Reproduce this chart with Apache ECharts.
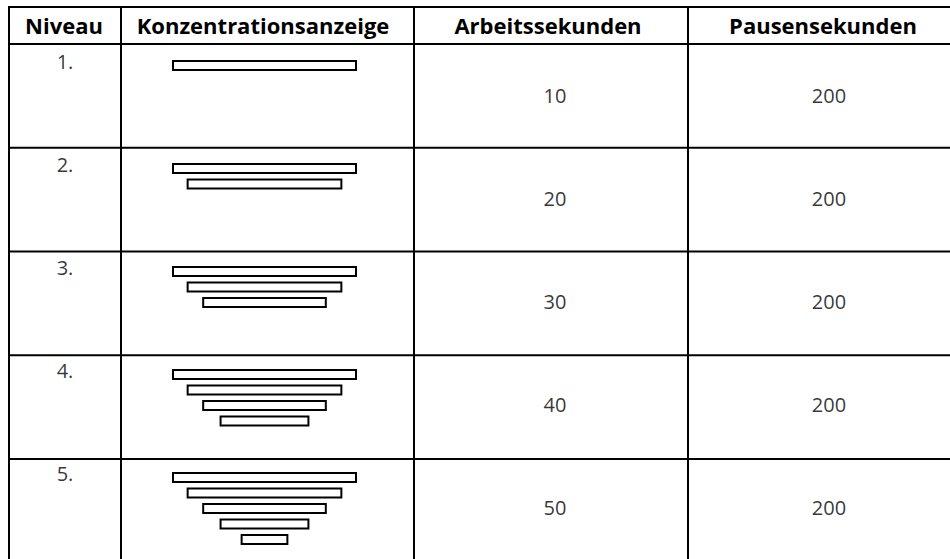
<!DOCTYPE html>
<html>
<head>
<meta charset="utf-8">
<script src="https://cdn.jsdelivr.net/npm/echarts@6/dist/echarts.min.js"></script>
<style>html,body{margin:0;padding:0;background:#fff}#c{width:950px;height:559px}</style>
</head>
<body>
<div id="c"></div>
<script>
// ---- data ----
var headers = ['Niveau', 'Konzentrationsanzeige', 'Arbeitssekunden', 'Pausensekunden'];
var levels = ['1.', '2.', '3.', '4.', '5.'];
var arbeitssekunden = [10, 20, 30, 40, 50];
var pausensekunden = [200, 200, 200, 200, 200];
// relative length (in % of the longest bar) of each bar of the concentration display
var barLengths = [100, 84, 67, 48, 25];

// ---- layout ----
var FONT = '"Open Sans", "Noto Sans", sans-serif';
var tableTop = 7, headerLine = 44, bandH = 103.75;
var colLines = [9, 121, 414, 688];

var barData = [];
levels.forEach(function (lv, li) {
  for (var b = 0; b <= li; b++) barData.push([barLengths[b], li, b]);
});

var graphics = [];
var hl = [tableTop, headerLine];
for (var r = 1; r < levels.length; r++) hl.push(headerLine + r * bandH);
hl.forEach(function (y) {
  graphics.push({type: 'line', shape: {x1: 8, y1: y, x2: 950, y2: y}, style: {stroke: '#000', lineWidth: 2}, silent: true});
});
colLines.forEach(function (x) {
  graphics.push({type: 'line', shape: {x1: x, y1: tableTop - 1, x2: x, y2: 559}, style: {stroke: '#000', lineWidth: 2}, silent: true});
});
var headerX = [64, 263, 548, 823];
headers.forEach(function (h, i) {
  graphics.push({type: 'text', x: headerX[i], y: 25, style: {text: h, fill: '#000', font: 'bold 22px ' + FONT, textAlign: 'center', textVerticalAlign: 'middle'}, silent: true});
});

var gridH = bandH * levels.length;
var chart = echarts.init(document.getElementById('c'), null, {renderer: 'svg'});
chart.setOption({
  animation: false,
  backgroundColor: '#fff',
  grid: [
    {left: 9, width: 112, top: headerLine, height: gridH},
    {left: 173, width: 183, top: headerLine, height: gridH},
    {left: 555, width: 274, top: headerLine, height: gridH}
  ],
  xAxis: [
    {gridIndex: 0, type: 'category', data: ['Niveau'], show: false},
    {gridIndex: 1, type: 'value', min: 0, max: 100, show: false},
    {gridIndex: 2, type: 'category', boundaryGap: false, data: ['Arbeitssekunden', 'Pausensekunden'], show: false}
  ],
  yAxis: [
    {gridIndex: 0, type: 'category', data: levels, inverse: true, show: false},
    {gridIndex: 1, type: 'category', data: levels, inverse: true, show: false},
    {gridIndex: 2, type: 'category', data: levels, inverse: true, show: false}
  ],
  graphic: graphics,
  series: [
    {
      type: 'scatter', xAxisIndex: 0, yAxisIndex: 0, silent: true,
      symbolSize: 1, itemStyle: {color: 'transparent'},
      data: levels.map(function (l, i) { return [0, i]; }),
      label: {show: true, position: 'inside', offset: [0, -34], color: '#000', fontFamily: FONT, fontSize: 20,
        formatter: function (p) { return levels[p.value[1]]; }}
    },
    {
      type: 'custom', xAxisIndex: 1, yAxisIndex: 1, silent: true,
      encode: {x: 0, y: 1},
      data: barData,
      renderItem: function (params, api) {
        var len = api.value(0), li = api.value(1), bi = api.value(2);
        var c = api.coord([50, li]);
        var band = api.size([0, 1])[1];
        var w = api.size([len, 0])[0];
        var top = c[1] - band / 2 + 17 + bi * 15.5;
        return {type: 'rect', shape: {x: c[0] - w / 2, y: top, width: w, height: 9},
          style: {fill: '#fff', stroke: '#000', lineWidth: 2}};
      }
    },
    {
      type: 'scatter', xAxisIndex: 2, yAxisIndex: 2, silent: true,
      symbolSize: 1, itemStyle: {color: 'transparent'},
      data: arbeitssekunden.map(function (v, i) { return [0, i, v]; }),
      label: {show: true, position: 'inside', color: '#000', fontFamily: FONT, fontSize: 20,
        formatter: function (p) { return String(p.value[2]); }}
    },
    {
      type: 'scatter', xAxisIndex: 2, yAxisIndex: 2, silent: true,
      symbolSize: 1, itemStyle: {color: 'transparent'},
      data: pausensekunden.map(function (v, i) { return [1, i, v]; }),
      label: {show: true, position: 'inside', color: '#000', fontFamily: FONT, fontSize: 20,
        formatter: function (p) { return String(p.value[2]); }}
    }
  ]
});
</script>
</body>
</html>
